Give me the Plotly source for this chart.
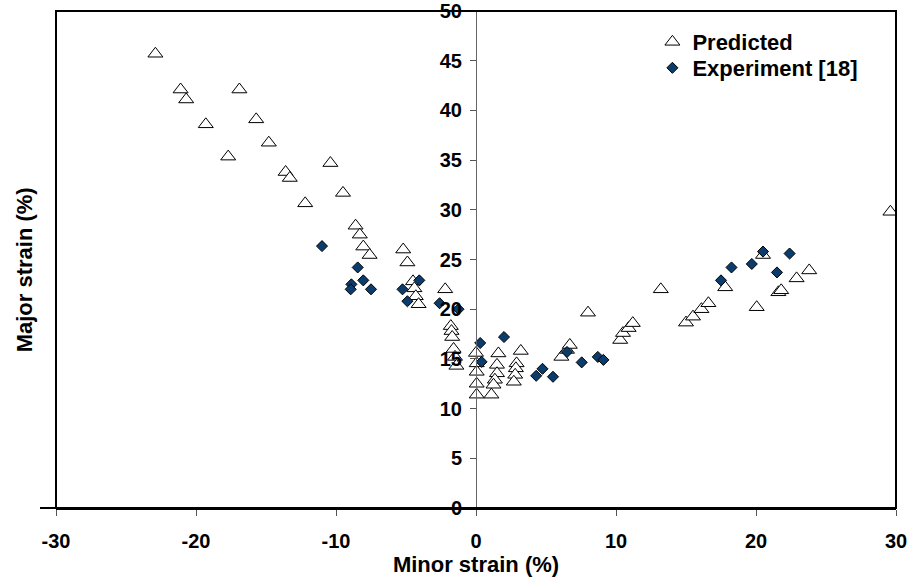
import plotly.graph_objects as go

# Predicted (triangles)
pred_x = [-22.9, -21.1, -20.7, -16.9, -19.3, -15.7, -14.8, -17.7, -13.6, -13.3,
          -10.4, -9.5, -12.2, -8.6, -8.3, -8.05, -7.6, -5.2, -4.9, -4.5, -4.4, -4.3, -4.1,
          -2.2, -1.8, -1.75, -1.7, -1.6, -1.5, -1.4,
          0.0, 0.05, 0.05, 0.05, 0.05, 1.1,
          1.6, 1.5, 1.5, 1.35, 1.25,
          3.2, 2.9, 2.85, 2.8, 2.7,
          6.1, 6.5, 6.7, 8.0,
          10.3, 10.5, 10.9, 11.2, 13.2,
          15.0, 15.5, 16.1, 16.6, 17.8, 20.05, 20.5, 21.6, 21.8, 22.9, 23.8, 29.6]
pred_y = [45.7, 42.1, 41.1, 42.1, 38.6, 39.1, 36.75, 35.35, 33.8, 33.2,
          34.7, 31.7, 30.65, 28.4, 27.5, 26.3, 25.45, 26.0, 24.7, 22.8, 22.1, 21.3, 20.5,
          22.0, 18.3, 17.8, 17.2, 16.0, 15.2, 14.3,
          15.6, 14.55, 13.7, 12.5, 11.4, 11.4,
          15.55, 14.4, 13.55, 12.9, 12.4,
          15.8, 14.55, 14.05, 13.4, 12.7,
          15.2, 15.9, 16.4, 19.65,
          16.9, 17.6, 18.1, 18.6, 22.0,
          18.65, 19.25, 20.0, 20.6, 22.2, 20.2, 25.45, 21.7, 21.9, 23.1, 23.9, 29.8]

# Experiment [18] (diamonds)
exp_x = [-11.0, -8.45, -8.9, -8.95, -8.05, -7.5, -5.25, -4.9, -4.05, -2.6, -1.25,
         0.3, 0.4, 2.0, 4.3, 4.75, 5.5, 6.5, 7.55, 8.7, 9.1,
         17.5, 18.25, 19.7, 20.5, 21.5, 22.4]
exp_y = [26.35, 24.2, 22.5, 22.0, 22.9, 22.0, 22.0, 20.8, 22.9, 20.6, 20.0,
         16.6, 14.7, 17.2, 13.3, 14.0, 13.2, 15.7, 14.65, 15.2, 14.9,
         22.9, 24.2, 24.55, 25.8, 23.7, 25.6]

x_ticks = [-30, -20, -10, 0, 10, 20, 30]
x_tick_text = ["-30", "-20", "-10", "0", "10", "20", "30"]
y_ticks = [0, 5, 10, 15, 20, 25, 30, 35, 40, 45, 50]

FONT = "Liberation Sans, Arial, sans-serif"
LEG_FONT = dict(size=22, family=FONT, weight="bold")

fig = go.Figure()
fig.add_trace(go.Scatter(
    x=pred_x, y=pred_y, mode="markers", name="Predicted", legend="legend",
    marker=dict(symbol="triangle-up", size=13, color="white",
                line=dict(color="black", width=1)),
))
fig.add_trace(go.Scatter(
    x=exp_x, y=exp_y, mode="markers", name="Experiment [18]", legend="legend2",
    marker=dict(symbol="diamond", size=8.5, color="#0b3c6e",
                line=dict(color="black", width=1)),
))

fig.update_layout(
    width=910, height=579,
    margin=dict(l=56, r=14, t=11, b=71, autoexpand=False),
    plot_bgcolor="white", paper_bgcolor="white",
    font=dict(family=FONT, color="black"),
    showlegend=True,
    legend=dict(x=0.71, y=0.9376, xanchor="left", yanchor="middle",
                bgcolor="rgba(0,0,0,0)", borderwidth=0, font=LEG_FONT),
    legend2=dict(x=0.71, y=0.8853, xanchor="left", yanchor="middle",
                 bgcolor="rgba(0,0,0,0)", borderwidth=0, font=LEG_FONT),
    xaxis=dict(range=[-30, 30], tickvals=x_ticks, ticktext=x_tick_text,
               ticks="outside", ticklen=6, automargin=False, ticklabelstandoff=8,
               tickcolor="#555", showline=True, linecolor="black", linewidth=2,
               zeroline=False, showgrid=False, ticklabeloverflow="allow",
               tickfont=dict(size=20, family=FONT, weight="bold"),
               title=dict(text="Minor strain (%)", standoff=0,
                          font=dict(size=22, family=FONT, weight="bold"))),
    yaxis=dict(range=[0, 50], tickvals=y_ticks, anchor="free", position=0.5,
               ticks="outside", ticklen=6, tickcolor="#555", automargin=False,
               showline=True, linecolor="#666", linewidth=1,
               zeroline=False, showgrid=False, ticklabelstandoff=4,
               ticklabeloverflow="allow",
               tickfont=dict(size=20, family=FONT, weight="bold")),
    shapes=[
        dict(type="rect", xref="paper", yref="paper", x0=0, x1=1, y0=0, y1=1,
             line=dict(color="black", width=2), layer="above"),
        dict(type="line", xref="paper", yref="paper", x0=-16/840, x1=0, y0=0, y1=0,
             line=dict(color="black", width=2)),
    ],
    annotations=[
        dict(text="Major strain (%)", xref="paper", yref="paper", x=-0.037, y=0.48,
             xanchor="center", yanchor="middle", textangle=-90, showarrow=False,
             font=dict(size=22, family=FONT, weight="bold", color="black")),
    ],
)

fig.write_html("out.html", default_width="910px", default_height="579px",
               config={"displayModeBar": False},
               post_script="document.body.style.margin='0';")
